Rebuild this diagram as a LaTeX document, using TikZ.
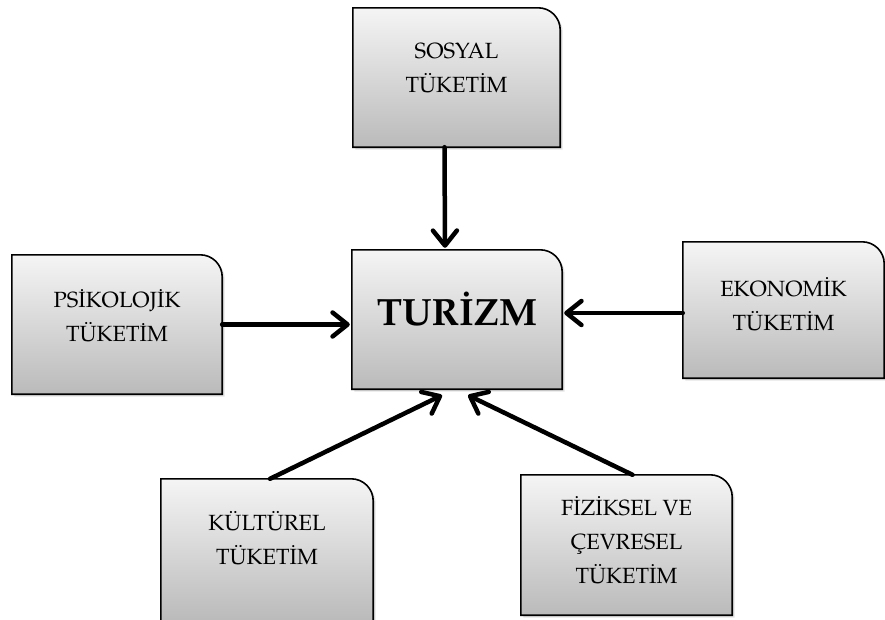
\documentclass[tikz,border=0pt]{standalone}
\usepackage[T1]{fontenc}
\usepackage{mathpazo}
\usepackage{tikz}
\usetikzlibrary{arrows.meta}
\usetikzlibrary{arrows.meta, calc, shadows}

\tikzset{
	kutu/.style = {minimum width=#1, minimum height=139pt, inner sep=0pt},
	kutu/.default = 210pt,
	cerceve/.style = {draw=black, line width=1.6pt, top color=black!4, bottom color=black!27,
		drop shadow={opacity=0.22, shadow xshift=2.5pt, shadow yshift=-2.5pt}},
	yazi/.style = {align=center, font=\fontsize{22}{34}\selectfont},
	ok/.style = {line width=4.5pt, line cap=round, -{Straight Barb[length=15pt, width=24pt, round]}}
}

\begin{document}
\begin{tikzpicture}[x=1pt, y=-1pt]
	    \useasboundingbox (0,0) rectangle (885,619);
	    \node[kutu=207pt] (sosyal) at (456.5,77.5) {};
	    \node[kutu] (turizm) at (457,319.5) {};
	    \node[kutu] (psikolojik) at (117,324.5) {};
	    \node[kutu=201pt, minimum height=136pt] (ekonomik) at (783.5,310) {};
	    \node[kutu=212pt, minimum height=142pt] (kulturel) at (267,550) {};
	    \node[kutu=211pt, minimum height=140pt] (fiziksel) at (626.5,545) {};
	    \foreach \n in {sosyal, turizm, psikolojik, ekonomik, kulturel, fiziksel}
	        \path[cerceve] (\n.south west) -- (\n.north west) -- ([xshift=-22pt]\n.north east)
	            arc[start angle=90, end angle=0, radius=22pt] -- (\n.south east) -- cycle;
	    \node[yazi] (sosyalyazi) at ([yshift=9pt]sosyal.center) {SOSYAL\\T\"UKET\.IM};
	    \node[font=\fontsize{38}{44}\selectfont\bfseries] (turizmyazi) at ([yshift=11pt]turizm.center) {TUR\.IZM};
	    \node[yazi] (psikolojikyazi) at ([yshift=9pt]psikolojik.center) {PS\.IKOLOJ\.IK\\T\"UKET\.IM};
	    \node[yazi] (ekonomikyazi) at ([yshift=6pt]ekonomik.center) {EKONOM\.IK\\T\"UKET\.IM};
	    \node[yazi] (kulturelyazi) at ([yshift=12pt]kulturel.center) {K\"ULT\"UREL\\T\"UKET\.IM};
	    \node[yazi] (fizikselyazi) at ([yshift=5pt]fiziksel.center) {F\.IZ\.IKSEL VE\\\c{C}EVRESEL\\T\"UKET\.IM};
	    \draw[ok] ([xshift=-12pt]sosyal.south) -- ([xshift=-12pt, yshift=2pt]turizm.north);
	    \draw[ok] (psikolojik.east) -- ([xshift=-2pt]psikolojik.east -| turizm.west);
	    \draw[ok] ([yshift=-3pt]ekonomik.west) -- ([xshift=2pt, yshift=-3pt]ekonomik.west -| turizm.east);
	    \draw[ok] ([xshift=3pt]kulturel.north) -- ([xshift=-15pt, yshift=-6pt]turizm.south);
	    \draw[ok] ([xshift=6pt]fiziksel.north) -- ([xshift=11pt, yshift=-6pt]turizm.south);
	\end{tikzpicture}
\end{document}
